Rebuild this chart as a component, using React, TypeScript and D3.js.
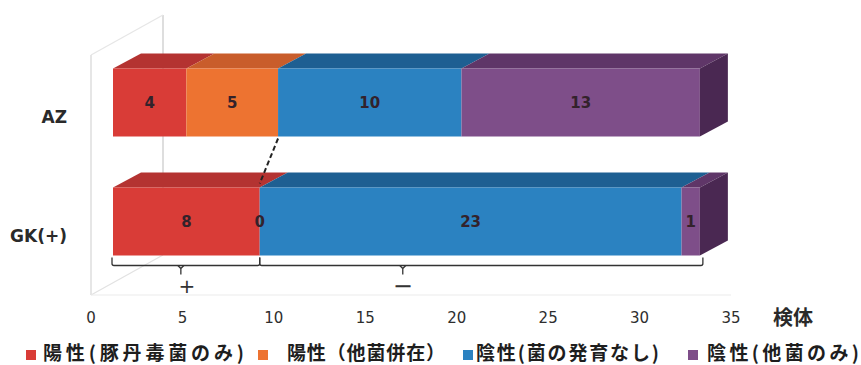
import React from "react";
import * as d3 from "d3";

// Categories (rows) and the stacked series counts
const categories = ["AZ", "GK(+)"];
const seriesNames = [
  "陽性(豚丹毒菌のみ)",
  "陽性（他菌併在）",
  "陰性(菌の発育なし)",
  "陰性(他菌のみ)",
];
const positiveOnly = [4, 8];
const positiveMixed = [5, 0];
const negativeNone = [10, 23];
const negativeOther = [13, 1];
const xTicks = [0, 5, 10, 15, 20, 25, 30, 35];
const unitLabel = "検体";
// bracket groups under GK(+): [start, end, brace point]
const groupLabels = ["+", "−"];
const groupRanges: [number, number, number][] = [
  [0, 8, 3.7],
  [8, 32, 15.8],
];

const W = 861;
const H = 365;

// front, top, side shades per series
const palette = [
  { front: "#d93c37", top: "#b43331", side: "#9c2b2a" },
  { front: "#ed7331", top: "#c95d2b", side: "#a94c22" },
  { front: "#2b82c1", top: "#1e5f92", side: "#184c75" },
  { front: "#7e4e89", top: "#5f3668", side: "#4a2852" },
];
const legendLayout = [
  { sq: 26, tx: 43, len: 201 },
  { sq: 258, tx: 287, len: 158 },
  { sq: 463, tx: 476, len: 183 },
  { sq: 688, tx: 707, len: 152 },
];

export default function App() {
  const series = [positiveOnly, positiveMixed, negativeNone, negativeOther];
  const table = categories.map((c, i) => {
    const row: Record<string, number | string> = { cat: c };
    seriesNames.forEach((s, k) => (row[s] = series[k][i]));
    return row;
  });
  const stacked = d3.stack<any>().keys(seriesNames)(table);

  // floor-front scale (tick labels) and bar-front scale (set back in depth)
  const xFloor = d3.scaleLinear().domain([0, 35]).range([91, 731]);
  const xBar = d3.scaleLinear().domain([0, 35]).range([113, 113 + 35 * 18.34]);
  const yMid = d3.scalePoint<string>().domain(categories).range([102.5, 221.5]);
  const barH = 68;
  const dx = 28;
  const dy = -15;

  const wallFront = { x: 91, y0: 55, y1: 295 };
  const wallBack = { x: 163, y0: 15, y1: 255 };
  const grid = "#d6d6d6";

  const font = "'DejaVu Sans', Verdana, sans-serif";
  const cjk = "'Noto Sans CJK JP', sans-serif";

  const bars: React.ReactNode[] = [];
  categories.forEach((cat, ci) => {
    const y0 = (yMid(cat) as number) - barH / 2;
    const y1 = y0 + barH;
    let lastIdx = -1;
    stacked.forEach((s, k) => {
      const [a, b] = s[ci];
      if (b > a) lastIdx = k;
    });
    stacked.forEach((s, k) => {
      const [a, b] = s[ci];
      if (b <= a) return;
      const xa = xBar(a);
      const xb = xBar(b);
      const c = palette[k];
      bars.push(
        <g key={`${cat}-${k}`}>
          <polygon
            points={`${xa},${y0} ${xb},${y0} ${xb + dx},${y0 + dy} ${xa + dx},${y0 + dy}`}
            fill={c.top}
          />
          <rect x={xa} y={y0} width={xb - xa} height={barH} fill={c.front} />
          {k === lastIdx && (
            <polygon
              points={`${xb},${y0} ${xb + dx},${y0 + dy} ${xb + dx},${y1 + dy} ${xb},${y1}`}
              fill={c.side}
            />
          )}
        </g>
      );
    });
    // value labels (zero-size segments keep their label)
    stacked.forEach((s, k) => {
      const [a, b] = s[ci];
      bars.push(
        <text
          key={`lab-${cat}-${k}`}
          x={xBar((a + b) / 2)}
          y={yMid(cat) as number}
          dy="0.35em"
          textAnchor="middle"
          fontFamily={font}
          fontWeight="bold"
          fontSize={15}
          fill="#33222b"
        >
          {b - a}
        </text>
      );
    });
  });

  const gkBottom = (yMid("GK(+)") as number) + barH / 2;
  const bY = gkBottom + 10;

  return (
    <div style={{ position: "fixed", left: 0, top: 0 }}>
      <svg width={W} height={H} viewBox={`0 0 ${W} ${H}`} style={{ display: "block", background: "#fff" }}>
        {/* side wall and floor edges */}
        <g stroke={grid} strokeWidth={1.2} fill="none">
          <line x1={wallFront.x} y1={wallFront.y0} x2={wallFront.x} y2={wallFront.y1} />
          <line x1={wallBack.x} y1={wallBack.y0} x2={wallBack.x} y2={wallBack.y1} stroke="#c8c8c8" />
          <line x1={wallFront.x} y1={wallFront.y0} x2={wallBack.x} y2={wallBack.y0} stroke="#e6e6e6" />
          <line x1={wallFront.x} y1={wallFront.y1} x2={wallBack.x} y2={wallBack.y1} stroke="#e2e2e2" />
          <line x1={xFloor(0)} y1={wallFront.y1} x2={xFloor(35)} y2={wallFront.y1} stroke="#ececec" />
        </g>

        {bars}

        {/* connector between AZ and GK(+) */}
        <line
          x1={xBar(positiveOnly[0] + positiveMixed[0])}
          y1={(yMid("AZ") as number) + barH / 2 + 2}
          x2={xBar(positiveOnly[1] + positiveMixed[1])}
          y2={(yMid("GK(+)") as number) - barH / 2 - 4}
          stroke="#222"
          strokeWidth={2}
          strokeDasharray="5,3"
        />

        {/* brackets for positive / negative groups */}
        <g stroke="#333" strokeWidth={1.3} fill="none">
          {groupRanges.map(([s, e, m], i) => {
            const xs = xBar(s) - (i === 0 ? 1 : 0);
            const xe = xBar(e) + (i === 1 ? 3 : 0);
            const xm = xBar(m);
            return (
              <g key={`br-${i}`}>
                <path
                  d={`M${xs},${bY - 8} L${xs},${bY - 2} Q${xs},${bY} ${xs + 2},${bY} L${xe - 2},${bY} Q${xe},${bY} ${xe},${bY - 2} L${xe},${bY - 8}`}
                />
                <path d={`M${xm - 3},${bY} L${xm},${bY + 3} L${xm + 3},${bY} M${xm},${bY + 3} L${xm},${bY + 9}`} />
              </g>
            );
          })}
        </g>
        {groupRanges.map(([, , m], i) => (
          <text
            key={`gl-${i}`}
            x={xBar(m) + (i === 0 ? 6 : 0)}
            y={bY + 20}
            dy="0.35em"
            textAnchor="middle"
            fontFamily={font}
            fontSize={i === 0 ? 20 : 24}
            fill="#333"
          >
            {groupLabels[i]}
          </text>
        ))}

        {/* category labels */}
        {categories.map((c) => (
          <text
            key={`cat-${c}`}
            x={67}
            y={(yMid(c) as number) + 15}
            dy="0.35em"
            textAnchor="end"
            fontFamily={font}
            fontWeight="bold"
            fontSize={17}
            fill="#2a2a2a"
          >
            {c}
          </text>
        ))}

        {/* x axis tick labels */}
        {xTicks.map((t) => (
          <text
            key={`t-${t}`}
            x={xFloor(t)}
            y={318}
            dy="0.35em"
            textAnchor="middle"
            fontFamily={font}
            fontSize={15}
            fill="#2e2e2e"
          >
            {t}
          </text>
        ))}
        <text x={773} y={318} dy="0.35em" fontFamily={cjk} fontWeight="bold" fontSize={20} fill="#2a2a2a">
          {unitLabel}
        </text>

        {/* legend */}
        {seriesNames.map((s, k) => (
          <g key={`lg-${k}`}>
            <rect x={legendLayout[k].sq} y={350} width={10} height={10} fill={palette[k].front} />
            <text
              x={legendLayout[k].tx}
              y={360}
              fontFamily={cjk}
              fontWeight="bold"
              fontSize={19}
              fill="#1e1e1e"
              textLength={legendLayout[k].len}
              lengthAdjust="spacing"
            >
              {s}
            </text>
          </g>
        ))}
      </svg>
    </div>
  );
}
